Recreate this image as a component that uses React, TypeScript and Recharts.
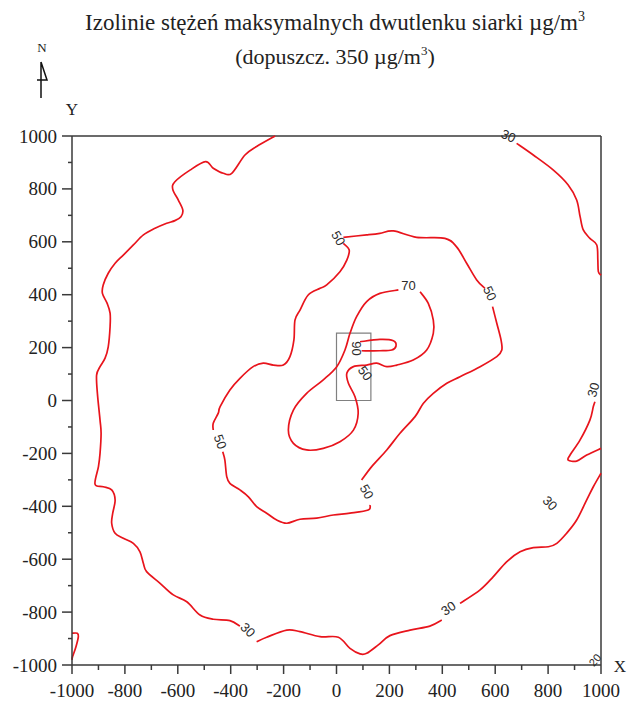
import React from 'react';
import { ComposedChart, Line, Scatter, XAxis, YAxis, ReferenceLine, ReferenceArea } from 'recharts';

type Pt = [number, number];

// Izolinia 30 – część zachodnia i północna (od górnej krawędzi do etykiety na południowym zachodzie)
const contour30West: Pt[] = [
  [-232, 1000], [-302, 960], [-346, 928], [-396, 859], [-428, 859], [-466, 878], [-495, 903],
  [-554, 871], [-611, 827], [-619, 798], [-598, 758], [-581, 720], [-588, 695], [-611, 680],
  [-642, 670], [-686, 651], [-730, 626], [-768, 588], [-806, 550], [-837, 519], [-863, 481],
  [-882, 437], [-885, 405], [-867, 367], [-856, 330], [-856, 279], [-863, 203], [-875, 160],
  [-894, 128], [-907, 96], [-904, 27], [-894, -74], [-890, -124], [-894, -200], [-900, -250],
  [-913, -316], [-882, -326], [-850, -338], [-837, -376], [-846, -426], [-850, -464], [-837, -502],
  [-806, -521], [-768, -540], [-743, -572], [-730, -616], [-718, -647], [-667, -691], [-617, -735],
  [-566, -761], [-516, -811], [-466, -827], [-403, -832], [-365, -853],
];

// Izolinia 30 – część południowa
const contour30South: Pt[] = [
  [-302, -912], [-264, -895], [-188, -868], [-138, -874], [-62, -893], [7, -895], [51, -937],
  [89, -958], [114, -956], [158, -924], [202, -889], [278, -868], [353, -853], [398, -830],
];

// Izolinia 30 – część południowo-wschodnia
const contour30SouthEast: Pt[] = [
  [467, -767], [543, -716], [593, -666], [643, -610], [694, -572], [744, -556], [801, -553],
  [833, -540], [870, -502], [908, -452], [946, -376], [971, -326], [1000, -275],
];

// Izolinia 30 – północny wschód
const contour30NorthEast: Pt[] = [
  [681, 972], [744, 928], [820, 871], [876, 815], [908, 758], [921, 695], [933, 645],
  [958, 613], [984, 588], [988, 531], [990, 487], [1000, 474],
];

// Izolinia 30 – wschód
const contour30East: Pt[] = [
  [977, -5], [971, -23], [958, -74], [921, -149], [883, -206], [876, -225], [908, -229],
  [946, -206], [1000, -181],
];

// Izolinia przy narożniku południowo-zachodnim
const contour30Corner: Pt[] = [
  [-1000, -880], [-980, -880], [-976, -893], [-985, -931], [-998, -969], [-1000, -981],
];

// Izolinia 50 – cztery odcinki między etykietami
const contour50North: Pt[] = [
  [26, 617], [114, 626], [164, 632], [215, 641], [303, 617], [410, 613], [454, 581],
  [492, 519], [530, 456], [561, 424],
];

const contour50East: Pt[] = [
  [590, 355], [606, 292], [622, 229], [625, 191], [606, 166], [543, 128], [467, 90],
  [417, 65], [366, 27], [328, -11], [297, -61], [240, -124], [190, -187], [133, -250], [95, -301],
];

const contour50South: Pt[] = [
  [127, -395], [120, -414], [51, -426], [-12, -433], [-75, -445], [-138, -449], [-188, -464],
  [-226, -452], [-264, -426], [-302, -401], [-333, -364], [-365, -338], [-403, -313],
  [-415, -288], [-422, -225], [-430, -194],
];

const contour50West: Pt[] = [
  [-466, -112], [-466, -86], [-447, -48], [-440, -23], [-403, 40], [-365, 84], [-315, 128],
  [-277, 141], [-239, 134], [-201, 134], [-176, 166], [-161, 229], [-157, 304], [-138, 342],
  [-107, 399], [-62, 424], [-37, 437], [13, 487], [39, 531], [48, 569], [26, 594],
];

// Izolinia 70
const contour70: Pt[] = [
  [316, 411], [347, 367], [366, 304], [366, 254], [341, 191], [290, 153], [228, 134],
  [190, 128], [152, 141], [114, 134], [64, 128], [39, 103], [45, 65], [70, 14], [82, -48],
  [64, -112], [13, -156], [-50, -181], [-113, -187], [-163, -162], [-182, -112], [-163, -36],
  [-113, 27], [-50, 78], [1, 128], [32, 191], [51, 254], [76, 317], [114, 374], [164, 405],
  [234, 418],
];

// Izolinia 90
const contour90: Pt[] = [
  [89, 222], [164, 231], [215, 226], [225, 206], [209, 191], [164, 188], [95, 188],
];

// Prostokąt obiektu (źródła emisji)
const facilityX: [number, number] = [0, 130];
const facilityY: [number, number] = [0, 255];

// Etykiety izolinii: położenie, tekst, kąt obrotu
const contourLabelX = [650, 971, 807, 423, -335, 977, 7, 580, -440, 114, 108, 272, 74];
const contourLabelY = [1000, 40, -388, -786, -867, -981, 613, 405, -156, -345, 103, 433, 197];
const contourLabelText = ['30', '30', '30', '30', '30', '20', '50', '50', '50', '50', '50', '70', '90'];
const contourLabelAngle = [25, -75, 45, -35, 45, -50, 60, 65, 70, 60, 55, 0, 90];

// Podziałka osi
const axisTicks = [
  -1000, -900, -800, -700, -600, -500, -400, -300, -200, -100, 0,
  100, 200, 300, 400, 500, 600, 700, 800, 900, 1000,
];

const RED = '#e8141c';
const AXIS = '#3a3a3a';
const SERIF = '"Liberation Serif", "Times New Roman", serif';
const SANS = '"Liberation Sans", Arial, sans-serif';

const toXY = (pts: Pt[]) => pts.map(([x, y]) => ({ x, y }));

const contourSegments: Pt[][] = [
  contour30West, contour30South, contour30SouthEast, contour30NorthEast, contour30East,
  contour30Corner, contour50North, contour50East, contour50South, contour50West,
  contour70, contour90,
];

const labelData = contourLabelX.map((x, i) => ({
  x,
  y: contourLabelY[i],
  text: contourLabelText[i],
  angle: contourLabelAngle[i],
}));

// Gładka krzywa Catmulla-Roma przechodząca przez kolejne punkty izolinii
const smoothCurve = (context: any) => {
  let pts: number[][] = [];
  return {
    areaStart() {},
    areaEnd() {},
    lineStart() {
      pts = [];
    },
    point(x: number, y: number) {
      pts.push([+x, +y]);
    },
    lineEnd() {
      const n = pts.length;
      if (!n) return;
      context.moveTo(pts[0][0], pts[0][1]);
      for (let i = 0; i < n - 1; i++) {
        const p0 = pts[Math.max(0, i - 1)];
        const p1 = pts[i];
        const p2 = pts[i + 1];
        const p3 = pts[Math.min(n - 1, i + 2)];
        context.bezierCurveTo(
          p1[0] + (p2[0] - p0[0]) / 6,
          p1[1] + (p2[1] - p0[1]) / 6,
          p2[0] - (p3[0] - p1[0]) / 6,
          p2[1] - (p3[1] - p1[1]) / 6,
          p2[0],
          p2[1],
        );
      }
    },
  };
};

const LabelShape = (props: any) => {
  const { cx, cy, payload } = props;
  if (cx == null || cy == null) return <g />;
  const small = payload.text === '20';
  return (
    <text
      x={cx}
      y={cy}
      transform={`rotate(${payload.angle} ${cx} ${cy})`}
      textAnchor="middle"
      dominantBaseline="central"
      fontFamily={SANS}
      fontSize={small ? 11 : 13}
      fill="#2b2b2b"
    >
      {payload.text}
    </text>
  );
};

const YTick = (props: any) => {
  const { x, y, payload } = props;
  const v = payload.value as number;
  const major = v % 200 === 0;
  return (
    <g>
      <line x1={x - (major ? 10 : 4)} x2={x} y1={y} y2={y} stroke={AXIS} strokeWidth={1.5} />
      {major && (
        <text x={x - 15} y={y + 6.5} textAnchor="end" fontFamily={SERIF} fontSize={19} fill="#222">
          {String(v)}
        </text>
      )}
    </g>
  );
};

const XTick = (props: any) => {
  const { x, y, payload } = props;
  const v = payload.value as number;
  const major = v % 200 === 0;
  return (
    <g>
      <line x1={x} x2={x} y1={y} y2={y + (major ? 9 : 5)} stroke={AXIS} strokeWidth={1.5} />
      {major && (
        <text x={x} y={y + 32} textAnchor="middle" fontFamily={SERIF} fontSize={19} fill="#222">
          {String(v)}
        </text>
      )}
    </g>
  );
};

export default function App() {
  return (
    <div style={{ position: 'absolute', left: 0, top: 0, width: 628, height: 704, background: '#fff' }}>
      <ComposedChart
        width={628}
        height={704}
        margin={{ top: 136, right: 27, bottom: 0, left: 12 }}
      >
        <XAxis
          type="number"
          dataKey="x"
          domain={[-1000, 1000]}
          ticks={axisTicks}
          interval={0}
          height={39}
          tickSize={0}
          tickMargin={0}
          tickLine={false}
          axisLine={{ stroke: AXIS, strokeWidth: 1.5 }}
          tick={<XTick />}
        />
        <YAxis
          type="number"
          dataKey="y"
          domain={[-1000, 1000]}
          ticks={axisTicks}
          interval={0}
          width={60}
          tickSize={0}
          tickMargin={0}
          tickLine={false}
          axisLine={{ stroke: AXIS, strokeWidth: 1.5 }}
          tick={<YTick />}
        />
        <ReferenceLine y={1000} stroke={AXIS} strokeWidth={1.5} />
        <ReferenceLine x={1000} stroke={AXIS} strokeWidth={1.5} />
        <ReferenceArea
          x1={facilityX[0]}
          x2={facilityX[1]}
          y1={facilityY[0]}
          y2={facilityY[1]}
          fill="none"
          fillOpacity={0}
          stroke="#808080"
          strokeWidth={1.2}
        />
        {contourSegments.map((seg, i) => (
          <Line
            key={`c${i}`}
            data={toXY(seg)}
            dataKey="y"
            type={smoothCurve as any}
            stroke={RED}
            strokeWidth={1.7}
            dot={false}
            activeDot={false}
            legendType="none"
            isAnimationActive={false}
          />
        ))}
        <Scatter data={labelData} dataKey="y" shape={LabelShape} legendType="none" isAnimationActive={false} />
      </ComposedChart>
      <svg
        width={628}
        height={704}
        style={{ position: 'absolute', left: 0, top: 0, pointerEvents: 'none' }}
      >
        <text x={335} y={30} textAnchor="middle" fontFamily={SERIF} fontSize={23} fill="#222">
          Izolinie stężeń maksymalnych dwutlenku siarki µg/m
          <tspan dy={-9} fontSize={14}>3</tspan>
        </text>
        <text x={335} y={64} textAnchor="middle" fontFamily={SERIF} fontSize={22} fill="#222">
          (dopuszcz. 350 µg/m
          <tspan dy={-9} fontSize={13}>3</tspan>
          <tspan dy={9}>)</tspan>
        </text>
        <text x={42} y={52} textAnchor="middle" fontFamily={SERIF} fontSize={13} fill="#222">N</text>
        <path d="M41,62 L41,98 M41,62 L47,80 L37,80" stroke="#111" strokeWidth={1.5} fill="none" />
        <text x={72} y={115} textAnchor="middle" fontFamily={SERIF} fontSize={17} fill="#222">Y</text>
        <text x={620} y={672} textAnchor="middle" fontFamily={SERIF} fontSize={17} fill="#222">X</text>
      </svg>
    </div>
  );
}
